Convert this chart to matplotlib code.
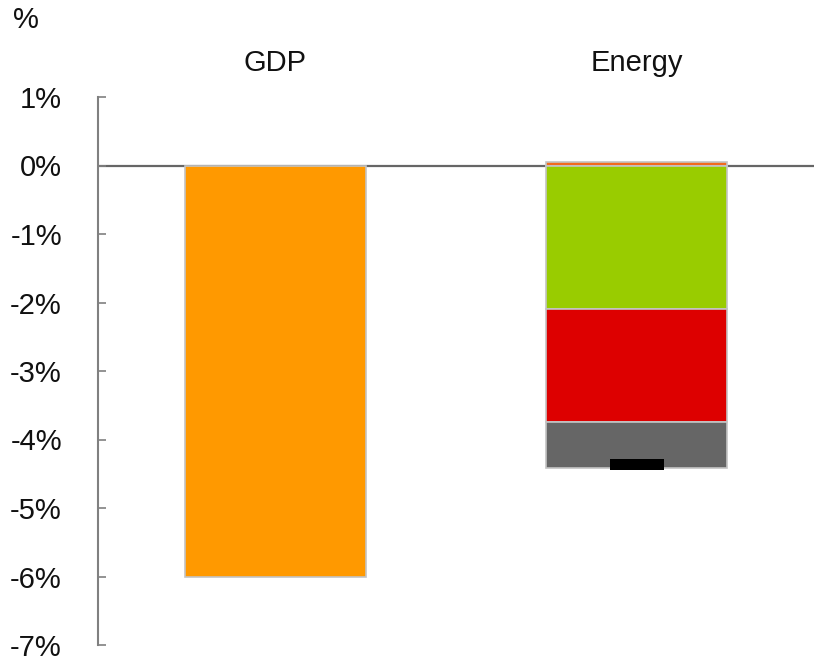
import matplotlib

matplotlib.use("Agg")
import matplotlib.pyplot as plt
from matplotlib.ticker import FuncFormatter

plt.rcParams["font.family"] = ["Liberation Sans", "DejaVu Sans"]
plt.rcParams["axes.unicode_minus"] = False

categories = ["GDP", "Energy"]
gdp_value = -6.0
# energy contributions, in % (first one is a small positive sliver)
energy_parts = [0.05, -2.10, -1.65, -0.67]
energy_colors = ["#F26B1D", "#99CC00", "#DD0000", "#666666"]
gdp_color = "#FF9900"
yticks = [1, 0, -1, -2, -3, -4, -5, -6, -7]

fig = plt.figure(figsize=(8.14, 6.57), dpi=100)
ax = fig.add_axes([98 / 814, 1 - 645 / 657, 1 - 98 / 814, (645 - 97) / 657])

bar_w = 0.5
edge = dict(edgecolor="#C4C4C4", linewidth=1.2)

ax.bar(0, gdp_value, width=bar_w, color=gdp_color, zorder=2, **edge)

pos_base, neg_base = 0.0, 0.0
for v, c in zip(energy_parts, energy_colors):
    if v >= 0:
        ax.bar(1, v, bottom=pos_base, width=bar_w, color=c, zorder=2, **edge)
        pos_base += v
    else:
        ax.bar(1, v, bottom=neg_base, width=bar_w, color=c, zorder=2, **edge)
        neg_base += v

# net total marker
total = sum(energy_parts)
ax.bar(1, 0.16, bottom=total - 0.08, width=0.15, color="black", zorder=3)

ax.axhline(0, color="#666666", linewidth=1.6, zorder=1)

ax.set_xlim(-0.49, 1.49)
ax.set_ylim(-7, 1)
ax.set_yticks(yticks)
ax.yaxis.set_major_formatter(FuncFormatter(lambda v, p: "%d%%" % v))
ax.set_xticks([])
for s in ["top", "right", "bottom"]:
    ax.spines[s].set_visible(False)
ax.spines["left"].set_color("#808080")
ax.spines["left"].set_linewidth(1.5)
ax.tick_params(axis="y", direction="in", length=6, width=1.2, color="#808080",
               pad=26, labelsize=21, labelcolor="#111111")

for i, name in enumerate(categories):
    ax.text(i, 1.5, name, ha="center", va="center", fontsize=21,
            color="#111111", clip_on=False)

fig.text(26 / 814, 1 - 20 / 657, "%", ha="center", va="center", fontsize=21,
         color="#111111")

fig.savefig("out.png", dpi=100)
